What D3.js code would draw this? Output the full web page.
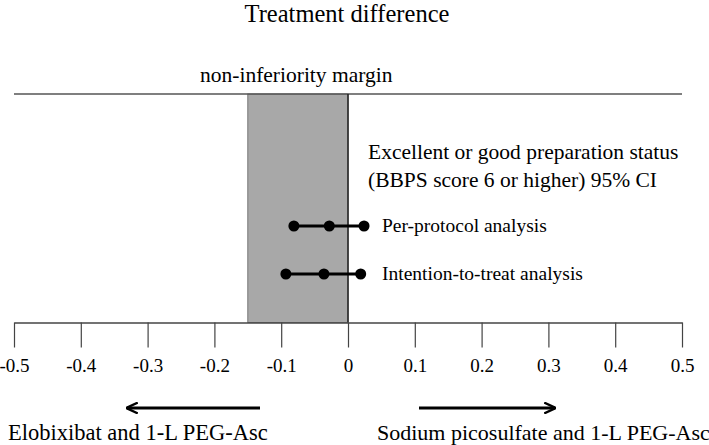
<!DOCTYPE html>
<html><head><meta charset="utf-8">
<script src="https://cdn.jsdelivr.net/npm/d3@7"></script>
<style>body{margin:0;background:#fff}svg{display:block}text{font-family:"Liberation Serif","Times New Roman",serif;fill:#000}</style>
</head><body><svg id="c" width="709" height="445"></svg>
<script>
const analyses = ["Per-protocol analysis", "Intention-to-treat analysis"];
const lower = [-0.081, -0.093];
const point = [-0.028, -0.036];
const upper = [0.024, 0.019];
const tickValues = [-0.5,-0.4,-0.3,-0.2,-0.1,0,0.1,0.2,0.3,0.4,0.5];
const tickLabels = ["-0.5","-0.4","-0.3","-0.2","-0.1","0","0.1","0.2","0.3","0.4","0.5"];
const margin = [-0.15, 0];

const svg = d3.select("#c");
const x = d3.scaleLinear().domain([-0.5,0.5]).range([14,682]);
const y = d3.scalePoint().domain(analyses).range([226,274]);
const topY = 94, axisY = 322.5;

svg.append("text").attr("x",347).attr("y",22).attr("text-anchor","middle").style("font-size","24.5px").text("Treatment difference");
svg.append("text").attr("x",200).attr("y",82).style("font-size","21.5px").text("non-inferiority margin");

svg.append("rect").attr("x",x(margin[0])).attr("y",topY).attr("width",x(margin[1])-x(margin[0])).attr("height",axisY-topY)
  .attr("fill","#a8a8a8").attr("stroke","#777").attr("stroke-width",1);
svg.append("line").attr("x1",x(-0.5)).attr("x2",x(0.5)).attr("y1",topY).attr("y2",topY).attr("stroke","#555").attr("stroke-width",1.5);
svg.append("line").attr("x1",x(0)).attr("x2",x(0)).attr("y1",topY).attr("y2",axisY).attr("stroke","#222").attr("stroke-width",1.5);

const ax = svg.append("g").attr("transform",`translate(0,${axisY})`)
  .call(d3.axisBottom(x).tickValues(tickValues).tickFormat((d,i)=>tickLabels[i]).tickSizeInner(25).tickSizeOuter(0).tickPadding(11));
ax.attr("font-family",'"Liberation Serif",serif');
ax.select(".domain").attr("stroke","#444").attr("stroke-width",1.5);
ax.selectAll(".tick line").attr("stroke","#444").attr("stroke-width",1.2);
ax.selectAll(".tick text").style("font-size","19px").style("font-family",'"Liberation Serif",serif');

svg.append("text").attr("x",368).attr("y",159).style("font-size","21.5px").text("Excellent or good preparation status");
svg.append("text").attr("x",368).attr("y",187).style("font-size","21.5px").text("(BBPS score 6 or higher) 95% CI");

const g = svg.append("g");
analyses.forEach((a,i)=>{
  g.append("line").attr("x1",x(lower[i])).attr("x2",x(upper[i])).attr("y1",y(a)).attr("y2",y(a)).attr("stroke","#000").attr("stroke-width",3);
  [lower[i],point[i],upper[i]].forEach(v=>g.append("circle").attr("cx",x(v)).attr("cy",y(a)).attr("r",5.5).attr("fill","#000"));
  g.append("text").attr("x",382).attr("y",y(a)+6).style("font-size","19.5px").text(a);
});

const defs = svg.append("defs");
defs.append("marker").attr("id","ah").attr("viewBox","0 0 10 10").attr("refX",9).attr("refY",5)
  .attr("markerWidth",4).attr("markerHeight",4).attr("orient","auto-start-reverse").attr("markerUnits","strokeWidth")
  .append("path").attr("d","M0,0.5 L9.5,5 L0,9.5").attr("fill","none").attr("stroke","#000").attr("stroke-width",2);
svg.append("line").attr("x1",260).attr("x2",127).attr("y1",408).attr("y2",408).attr("stroke","#000").attr("stroke-width",3).attr("marker-end","url(#ah)");
svg.append("line").attr("x1",419).attr("x2",555).attr("y1",408).attr("y2",408).attr("stroke","#000").attr("stroke-width",3).attr("marker-end","url(#ah)");

svg.append("text").attr("x",8).attr("y",440).style("font-size","22.5px").text("Elobixibat and 1-L PEG-Asc");
svg.append("text").attr("x",377).attr("y",440).style("font-size","22px").text("Sodium picosulfate and 1-L PEG-Asc");
</script></body></html>
